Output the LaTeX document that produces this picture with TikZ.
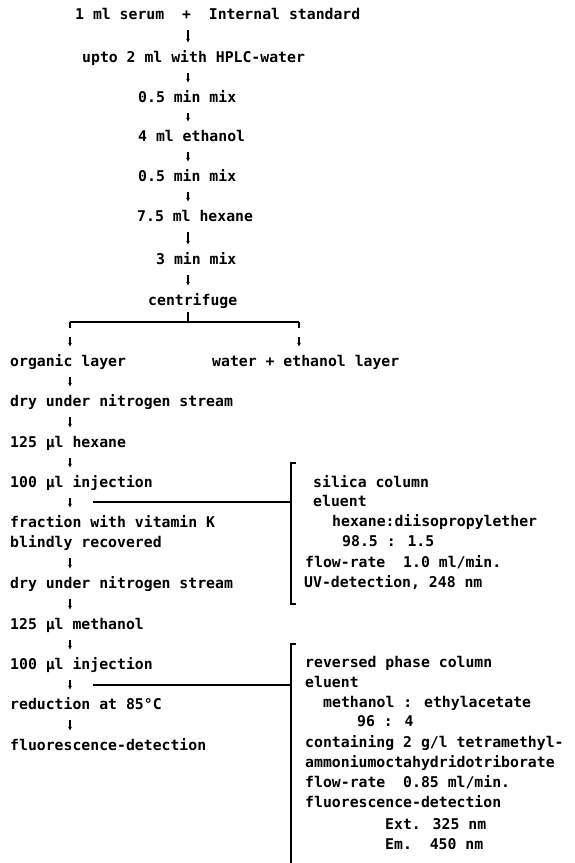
\documentclass[tikz,border=0pt]{standalone}
\usepackage{fontspec}
\newfontfamily\tfont{DejaVu Sans Mono}
\usetikzlibrary{arrows.meta,calc}
\begin{document}
\begin{tikzpicture}[x=1pt,y=-1pt,
  txt/.style={anchor=west,inner sep=0pt,text height=11pt,text depth=3pt,font=\fontsize{14.8}{16}\tfont\bfseries},
  arr/.style={line width=1.2pt,-{Latex[length=4pt,width=4pt]},shorten <=8pt,shorten >=8pt},
  ln/.style={line width=1.1pt}]
\useasboundingbox (0,0) rectangle (574,863);
\coordinate (colA) at (188,0);
\coordinate (colB) at (70,0);
% top column
\node[txt] (t1) at (75,15) {1 ml serum\ \ +\ \ Internal standard};
\node[txt] (t2) at (82,58) {upto 2 ml with HPLC-water};
\node[txt] (t3) at (138,98) {0.5 min mix};
\node[txt] (t4) at (138,137) {4 ml ethanol};
\node[txt] (t5) at (138,177) {0.5 min mix};
\node[txt] (t6) at (137,217) {7.5 ml hexane};
\node[txt] (t7) at (156,260) {3 min mix};
\node[txt] (t8) at (148,301) {centrifuge};
\foreach \a/\b in {t1/t2,t2/t3,t3/t4,t4/t5,t5/t6,t6/t7,t7/t8}
  \draw[arr] (\a.south -| colA) -- (\b.north -| colA);
% branch
\node[txt] (o1) at (10,362) {organic layer};
\node[txt] (w1) at (212,362) {water + ethanol layer};
\coordinate (bL) at (70,322);
\coordinate (bR) at (299,322);
\coordinate (bM) at (188,322);
\draw[ln,shorten <=4pt] (t8.south -| colA) -- (bM);
\draw[ln] (bL) -- (bR);
\draw[ln] (bL) -- ++(0,6);
\draw[ln] (bR) -- ++(0,6);
\draw[arr,shorten <=15pt] (bL) -- (o1.north -| bL);
\draw[arr,shorten <=15pt] (bR) -- (w1.north -| bR);
% lower column
\node[txt] (d1) at (10,402) {dry under nitrogen stream};
\node[txt] (h1) at (10,443) {125 µl hexane};
\node[txt] (i1) at (10,483) {100 µl injection};
\node[txt] (f1) at (10,523) {fraction with vitamin K};
\node[txt] (f2) at (10,543) {blindly recovered};
\node[txt] (d2) at (10,584) {dry under nitrogen stream};
\node[txt] (h2) at (10,625) {125 µl methanol};
\node[txt] (i2) at (10,665) {100 µl injection};
\node[txt] (r1) at (10,705) {reduction at 85°C};
\node[txt] (fl) at (10,746) {fluorescence-detection};
\foreach \a/\b in {o1/d1,d1/h1,h1/i1,i1/f1,f2/d2,d2/h2,h2/i2,i2/r1,r1/fl}
  \draw[arr] (\a.south -| colB) -- (\b.north -| colB);
% silica bracket
\coordinate (k1) at (93,502);
\coordinate (br1) at (291,502);
\draw[ln] (k1) -- (br1);
\draw[ln] (296,463) -- (291,463) -- (291,604) -- (296,604);
\node[txt] (s1) at (313,483) {silica column};
\node[txt] (s2) at (313,502) {eluent};
\node[txt] (s3) at (332,522) {hexane:diisopropylether};
\node[txt] (s4) at (342,542) {98.5 : 1.5};
\node[txt] (s5) at (305,563) {flow-rate\ \ 1.0 ml/min.};
\node[txt] (s6) at (304,583) {UV-detection, 248 nm};
% reversed phase bracket
\coordinate (k2) at (93,685);
\coordinate (br2) at (291,685);
\draw[ln] (k2) -- (br2);
\draw[ln] (296,644) -- (291,644) -- (291,863);
\node[txt] (p1) at (305,663) {reversed phase column};
\node[txt] (p2) at (305,683) {eluent};
\node[txt] (p3) at (323,703) {methanol : ethylacetate};
\node[txt] (p4) at (357,722) {96 : 4};
\node[txt] (p5) at (305,743) {containing 2 g/l tetramethyl-};
\node[txt] (p6) at (305,763) {ammoniumoctahydridotriborate};
\node[txt] (p7) at (305,783) {flow-rate\ \ 0.85 ml/min.};
\node[txt] (p8) at (305,803) {fluorescence-detection};
\node[txt] (p9) at (385,825) {Ext. 325 nm};
\node[txt] (p10) at (385,845) {Em.\ \ 450 nm};
\end{tikzpicture}
\end{document}
